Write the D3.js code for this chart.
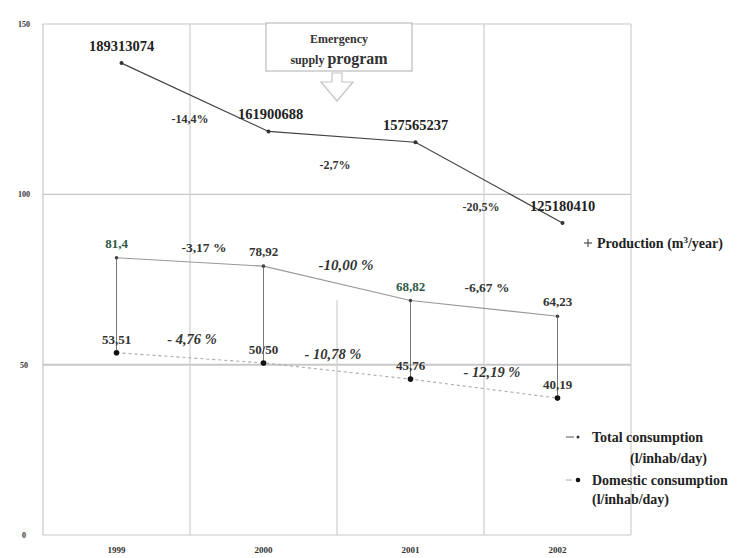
<!DOCTYPE html>
<html><head><meta charset="utf-8">
<script src="https://cdn.jsdelivr.net/npm/d3@7"></script>
<style>
html,body{margin:0;padding:0;background:#fff;}
svg{display:block;font-family:"Liberation Serif","Times New Roman",serif;}
</style></head>
<body><svg id="c" width="747" height="558"></svg>
<script>
const years = ["1999","2000","2001","2002"];
const production = [189313074, 161900688, 157565237, 125180410];
const productionLabels = ["189313074","161900688","157565237","125180410"];
const productionChange = ["-14,4%","-2,7%","-20,5%"];
const totalConsumption = [81.4, 78.92, 68.82, 64.23];
const totalLabels = ["81,4","78,92","68,82","64,23"];
const totalChange = ["-3,17 %","-10,00 %","-6,67 %"];
const domesticConsumption = [53.51, 50.50, 45.76, 40.19];
const domesticLabels = ["53,51","50/50","45,76","40,19"];
const domesticChange = ["- 4,76 %","- 10,78 %","- 12,19 %"];
const yTicks = [0, 50, 100, 150];

const svg = d3.select("#c");
const L = 43, R = 631, T = 24, B = 535;
const x = d3.scaleBand().domain(years).range([L, R]);
const cx = d => x(d) + x.bandwidth() / 2;
const y = d3.scaleLinear().domain([0, 150]).range([B, T]);
const yP = d3.scaleLinear().domain([0, 205e6]).range([B, T]);

// grid
const g = svg.append("g");
g.selectAll("line.h").data(yTicks).join("line")
  .attr("x1", L).attr("x2", R).attr("y1", d => y(d)).attr("y2", d => y(d))
  .attr("stroke", "#c8c8c8").attr("stroke-width", d => d === 50 ? 2 : 1.2);
g.selectAll("line.v").data(years.slice(1).concat(["end"])).join("line")
  .attr("x1", d => d === "end" ? R : x(d)).attr("x2", d => d === "end" ? R : x(d))
  .attr("y1", d => d === "2001" ? y(69) : T).attr("y2", B)
  .attr("stroke", "#cfcfcf").attr("stroke-width", 1.2);
// y axis
g.append("line").attr("x1", L).attr("x2", L).attr("y1", T).attr("y2", B).attr("stroke", "#bbb");
svg.append("g").selectAll("text").data(yTicks).join("text")
  .attr("x", 24).attr("y", d => y(d) + 3).attr("text-anchor", "middle")
  .attr("font-size", 8).attr("font-weight", "bold").attr("fill", "#333").text(d => d);
svg.append("g").selectAll("text").data(years).join("text")
  .attr("x", d => cx(d)).attr("y", 553).attr("text-anchor", "middle")
  .attr("font-size", 9).attr("font-weight", "bold").attr("fill", "#333").text(d => d);

// connectors total - domestic
svg.append("g").selectAll("line").data(years).join("line")
  .attr("x1", d => cx(d)).attr("x2", d => cx(d))
  .attr("y1", (d, i) => y(totalConsumption[i])).attr("y2", (d, i) => y(domesticConsumption[i]))
  .attr("stroke", "#777").attr("stroke-width", 1);

// lines
const pOff = 5;
svg.append("path").datum(production)
  .attr("d", d3.line().x((d, i) => cx(years[i]) + pOff).y(d => yP(d)))
  .attr("fill", "none").attr("stroke", "#444").attr("stroke-width", 1.2);
svg.append("path").datum(totalConsumption)
  .attr("d", d3.line().x((d, i) => cx(years[i])).y(d => y(d)))
  .attr("fill", "none").attr("stroke", "#999").attr("stroke-width", 1.1);
svg.append("path").datum(domesticConsumption)
  .attr("d", d3.line().x((d, i) => cx(years[i])).y(d => y(d)))
  .attr("fill", "none").attr("stroke", "#aaa").attr("stroke-width", 1.1).attr("stroke-dasharray", "3,3");

// markers
svg.append("g").selectAll("circle").data(production).join("circle")
  .attr("cx", (d, i) => cx(years[i]) + pOff).attr("cy", d => yP(d)).attr("r", 2).attr("fill", "#333");
svg.append("g").selectAll("circle").data(totalConsumption).join("circle")
  .attr("cx", (d, i) => cx(years[i])).attr("cy", d => y(d)).attr("r", 1.8).attr("fill", "#444");
svg.append("g").selectAll("circle").data(domesticConsumption).join("circle")
  .attr("cx", (d, i) => cx(years[i])).attr("cy", d => y(d)).attr("r", 2.8).attr("fill", "#111");

// value labels
svg.append("g").selectAll("text").data(production).join("text")
  .attr("x", (d, i) => cx(years[i]) + pOff + (i === 1 ? 2 : 0)).attr("y", d => yP(d) - 12)
  .attr("text-anchor", "middle").attr("font-size", 14.5).attr("font-weight", "bold").attr("fill", "#222")
  .text((d, i) => productionLabels[i]);
svg.append("g").selectAll("text").data(totalConsumption).join("text")
  .attr("x", (d, i) => cx(years[i])).attr("y", d => y(d) - 10)
  .attr("text-anchor", "middle").attr("font-size", 13).attr("font-weight", "bold")
  .attr("fill", (d, i) => (i === 0 || i === 2) ? "#2c5a48" : "#333")
  .text((d, i) => totalLabels[i]);
svg.append("g").selectAll("text").data(domesticConsumption).join("text")
  .attr("x", (d, i) => cx(years[i])).attr("y", d => y(d) - 9)
  .attr("text-anchor", "middle").attr("font-size", 13).attr("font-weight", "bold").attr("fill", "#333")
  .text((d, i) => domesticLabels[i]);

// change labels (placed at category boundaries)
const pDy = [26, 32, 28], tDy = [-10, -13, -16], dDy = [-14, -12, -12], tDx = [14, 9, 3], dDx = [2, -4, 8], pDx = [0, -2, -3];
svg.append("g").selectAll("text").data(productionChange).join("text")
  .attr("x", (d, i) => x(years[i + 1]) + pDx[i])
  .attr("y", (d, i) => (yP(production[i]) + yP(production[i + 1])) / 2 + pDy[i])
  .attr("text-anchor", "middle").attr("font-size", 12).attr("font-weight", "bold").attr("fill", "#333").text(d => d);
svg.append("g").selectAll("text").data(totalChange).join("text")
  .attr("x", (d, i) => x(years[i + 1]) + tDx[i])
  .attr("y", (d, i) => (y(totalConsumption[i]) + y(totalConsumption[i + 1])) / 2 + tDy[i])
  .attr("text-anchor", "middle").attr("font-size", (d, i) => i === 1 ? 15 : 13.5).attr("font-weight", "bold").attr("font-style", (d, i) => i === 1 ? "italic" : "normal")
  .attr("fill", "#333").text(d => d);
svg.append("g").selectAll("text").data(domesticChange).join("text")
  .attr("x", (d, i) => x(years[i + 1]) + dDx[i])
  .attr("y", (d, i) => (y(domesticConsumption[i]) + y(domesticConsumption[i + 1])) / 2 + dDy[i])
  .attr("text-anchor", "middle").attr("font-size", 14.5).attr("font-weight", "bold").attr("font-style", "italic")
  .attr("fill", "#333").text(d => d);

// emergency box + arrow
const bx = x("2001") - 71;
svg.append("rect").attr("x", bx).attr("y", 23).attr("width", 146).attr("height", 48)
  .attr("fill", "#fff").attr("stroke", "#bbb").attr("stroke-width", 1.2);
svg.append("text").attr("x", bx + 73).attr("y", 43).attr("text-anchor", "middle")
  .attr("font-size", 12).attr("font-weight", "bold").attr("fill", "#333").text("Emergency");
svg.append("text").attr("x", bx + 73).attr("y", 64).attr("text-anchor", "middle")
  .attr("font-weight", "bold").attr("fill", "#333")
  .html('<tspan font-size="12">supply </tspan><tspan font-size="16">program</tspan>');
const ax = x("2001");
svg.append("path")
  .attr("d", `M${ax - 5},73 L${ax + 5},73 L${ax + 5},82 L${ax + 16},82 L${ax},101 L${ax - 16},82 L${ax - 5},82 Z`)
  .attr("fill", "#fff").attr("stroke", "#c4c4c4").attr("stroke-width", 1.2);

// legends
const lg = svg.append("g").attr("font-weight", "bold").attr("fill", "#222").attr("font-size", 14);
lg.append("line").attr("x1", 584).attr("x2", 592).attr("y1", 243).attr("y2", 243).attr("stroke", "#333");
lg.append("line").attr("x1", 588).attr("x2", 588).attr("y1", 239).attr("y2", 247).attr("stroke", "#333");
lg.append("text").attr("x", 597).attr("y", 248).html('Production (m<tspan font-size="9" dy="-5">3</tspan><tspan dy="5">/year)</tspan>');
lg.append("line").attr("x1", 566).attr("x2", 574).attr("y1", 437).attr("y2", 437).attr("stroke", "#555");
lg.append("circle").attr("cx", 578).attr("cy", 437).attr("r", 1.5).attr("fill", "#333");
lg.append("text").attr("x", 592).attr("y", 442).text("Total consumption");
lg.append("text").attr("x", 630).attr("y", 463).text("(l/inhab/day)");
lg.append("line").attr("x1", 566).attr("x2", 572).attr("y1", 480).attr("y2", 480).attr("stroke", "#aaa");
lg.append("circle").attr("cx", 578).attr("cy", 480).attr("r", 2.3).attr("fill", "#111");
lg.append("text").attr("x", 592).attr("y", 485).text("Domestic consumption");
lg.append("text").attr("x", 592).attr("y", 504).text("(l/inhab/day)");
</script></body></html>
